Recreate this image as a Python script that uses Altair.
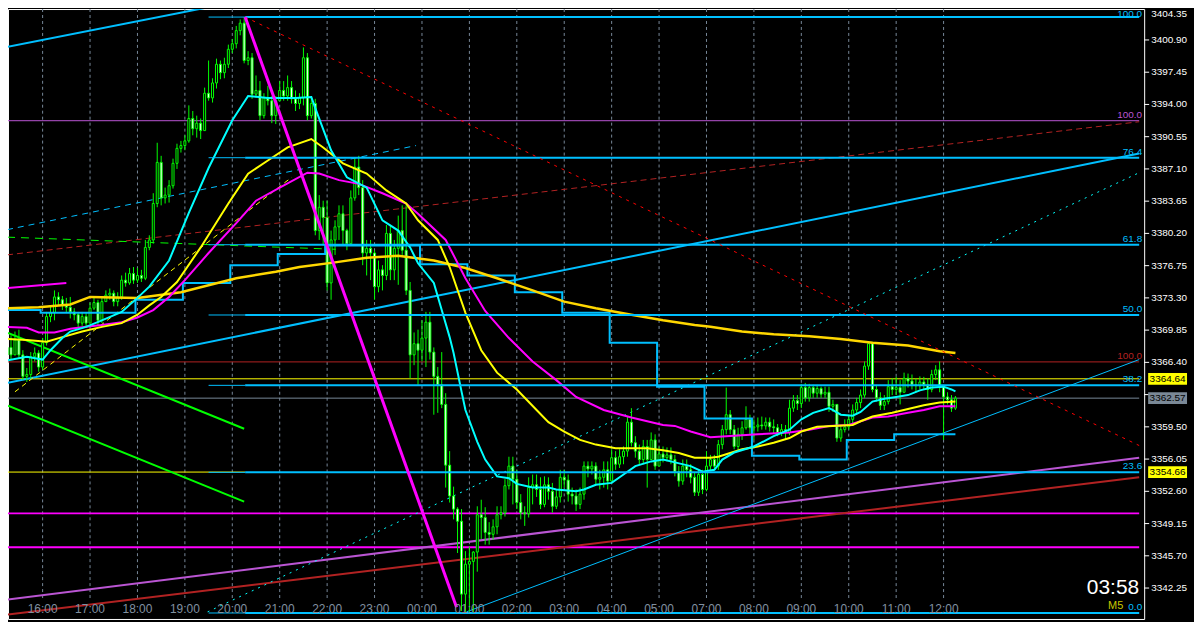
import altair as alt
import pandas as pd

# ---------------- data (M5 gold chart) ----------------
FIRST_BAR = -9
first_open = 3367.2
closes = [
    3368.0, 3367.2, 3368.8, 3367.2, 3364.9, 3365.1, 3367.0, 3367.4, 3365.9, 3368.5,
    3371.3, 3371.7, 3373.4, 3373.1, 3372.5, 3372.3, 3371.8, 3371.5, 3370.6, 3371.3,
    3370.6, 3372.2, 3372.8, 3370.9, 3372.9, 3373.6, 3373.8, 3372.9, 3373.4, 3375.2,
    3374.9, 3375.9, 3375.2, 3375.7, 3375.4, 3378.7, 3379.5, 3383.4, 3387.8, 3384.0,
    3384.3, 3385.3, 3387.7, 3389.3, 3389.6, 3390.1, 3392.5, 3391.4, 3392.0, 3391.2,
    3395.2, 3394.7, 3396.3, 3398.3, 3397.4, 3398.3, 3399.9, 3400.5, 3401.9, 3402.7,
    3398.7, 3399.0, 3395.1, 3395.5, 3392.8, 3394.7, 3394.4, 3392.8, 3394.4, 3395.5,
    3394.9, 3395.8, 3394.6, 3394.1, 3394.7, 3399.0, 3392.8, 3394.1, 3380.5, 3383.0,
    3381.9, 3374.9, 3379.5, 3380.9, 3382.3, 3380.5, 3379.1, 3384.0, 3387.3, 3385.1,
    3378.1, 3378.6, 3378.1, 3374.5, 3376.3, 3375.7, 3380.2, 3376.3, 3378.6, 3380.5,
    3378.4, 3374.1, 3367.2, 3368.4, 3367.7, 3369.0, 3370.7, 3367.5, 3364.9, 3364.0,
    3361.9, 3355.4, 3352.1, 3350.7, 3349.4, 3341.6, 3344.8, 3345.1, 3346.1, 3350.1,
    3349.8, 3348.2, 3348.0, 3348.8, 3350.1, 3350.3, 3353.2, 3355.3, 3353.9, 3351.4,
    3350.3, 3350.2, 3353.0, 3353.3, 3352.8, 3351.2, 3353.3, 3352.6, 3351.0, 3352.0,
    3354.1, 3353.8, 3352.3, 3352.1, 3351.2, 3352.3, 3355.3, 3355.0, 3355.3, 3353.9,
    3354.1, 3354.9, 3353.7, 3356.2, 3355.5, 3356.3, 3356.9, 3360.0, 3357.8, 3356.9,
    3356.0, 3357.4, 3356.0, 3358.1, 3355.3, 3356.6, 3356.2, 3356.5, 3356.0, 3354.7,
    3353.7, 3355.3, 3354.9, 3354.1, 3352.5, 3354.4, 3352.8, 3355.3, 3356.0, 3355.3,
    3357.6, 3359.2, 3360.8, 3359.2, 3357.4, 3358.7, 3359.4, 3360.3, 3359.4, 3359.5,
    3359.7, 3359.6, 3360.0, 3359.5, 3359.4, 3358.9, 3359.2, 3358.9, 3361.5, 3362.3,
    3362.0, 3363.7, 3362.6, 3363.7, 3363.1, 3363.6, 3363.0, 3363.2, 3361.7, 3361.9,
    3358.3, 3359.2, 3359.5, 3360.3, 3361.3, 3362.1, 3362.9, 3366.0, 3368.4, 3363.5,
    3362.6, 3361.8, 3362.2, 3363.8, 3363.5, 3363.7, 3363.2, 3364.7, 3364.4, 3364.0,
    3363.9, 3364.3, 3364.0, 3363.5, 3365.1, 3365.6, 3363.8, 3362.7, 3362.4, 3361.5, 3362.57,
]
highs = [
    3368.5, 3369.3, 3369.7, 3369.9, 3367.7, 3365.8, 3367.5, 3368.0, 3367.7, 3369.0,
    3371.8, 3372.5, 3374.1, 3373.9, 3373.5, 3373.3, 3373.4, 3372.2, 3371.8, 3371.8,
    3371.7, 3372.8, 3373.3, 3373.1, 3373.3, 3374.1, 3374.3, 3374.1, 3373.9, 3375.7,
    3376.0, 3376.5, 3376.6, 3376.5, 3376.3, 3379.5, 3380.0, 3384.5, 3389.9, 3388.5,
    3385.1, 3385.9, 3388.2, 3389.8, 3390.1, 3390.7, 3393.9, 3393.3, 3392.8, 3392.5,
    3395.8, 3398.7, 3396.8, 3398.9, 3398.7, 3399.0, 3400.4, 3401.0, 3402.4, 3403.1,
    3403.35, 3399.7, 3399.5, 3397.1, 3396.5, 3395.2, 3396.0, 3394.9, 3394.9, 3396.5,
    3396.5, 3397.1, 3396.5, 3395.5, 3395.2, 3400.1, 3399.5, 3394.7, 3394.6, 3384.3,
    3383.7, 3383.7, 3380.5, 3381.6, 3383.2, 3383.2, 3380.7, 3384.8, 3388.3, 3388.5,
    3385.9, 3379.5, 3379.5, 3378.4, 3377.3, 3376.8, 3381.1, 3381.1, 3379.5, 3382.1,
    3383.2, 3383.2, 3375.0, 3369.6, 3369.9, 3370.9, 3371.8, 3371.8, 3368.0, 3365.9,
    3367.5, 3363.1, 3356.9, 3353.1, 3350.9, 3350.7, 3346.2, 3346.7, 3346.2, 3351.0,
    3351.7, 3350.9, 3349.3, 3349.6, 3351.0, 3351.0, 3353.9, 3356.3, 3356.3, 3354.9,
    3352.3, 3351.0, 3354.1, 3354.4, 3354.4, 3354.1, 3354.2, 3354.1, 3353.5, 3352.8,
    3354.9, 3354.9, 3354.4, 3353.0, 3352.8, 3353.0, 3355.8, 3355.8, 3355.8, 3355.7,
    3354.9, 3355.8, 3355.8, 3357.1, 3356.9, 3357.1, 3357.4, 3360.6, 3361.5, 3358.5,
    3357.6, 3358.1, 3358.1, 3358.9, 3358.7, 3357.4, 3357.4, 3357.3, 3357.3, 3356.5,
    3355.3, 3356.0, 3356.0, 3355.5, 3354.6, 3354.9, 3354.9, 3356.9, 3356.5, 3356.5,
    3358.1, 3359.7, 3363.7, 3361.3, 3359.7, 3359.4, 3360.1, 3361.7, 3360.8, 3360.3,
    3360.5, 3360.6, 3360.5, 3360.5, 3360.3, 3359.8, 3359.8, 3359.7, 3362.4, 3362.9,
    3362.9, 3364.1, 3364.2, 3364.1, 3364.0, 3364.0, 3363.8, 3363.8, 3363.8, 3362.4,
    3361.9, 3359.7, 3360.3, 3360.8, 3361.9, 3362.6, 3363.5, 3366.5, 3368.6, 3368.6,
    3364.0, 3363.2, 3362.9, 3364.5, 3364.7, 3364.85, 3364.5, 3365.3, 3365.2, 3365.1,
    3364.7, 3364.9, 3364.85, 3364.7, 3365.6, 3366.1, 3366.5, 3364.0, 3363.2, 3362.9, 3362.8,
]
lows = [
    3366.9, 3366.7, 3367.7, 3366.9, 3364.5, 3364.3, 3364.7, 3366.5, 3365.4, 3365.6,
    3368.2, 3370.7, 3370.9, 3372.5, 3372.0, 3371.8, 3371.1, 3370.9, 3370.1, 3370.3,
    3370.1, 3370.7, 3372.0, 3370.4, 3370.6, 3372.9, 3373.1, 3372.4, 3372.4, 3373.1,
    3374.5, 3374.7, 3374.8, 3374.9, 3375.0, 3375.2, 3378.4, 3379.1, 3383.0, 3383.2,
    3383.4, 3383.5, 3385.0, 3387.1, 3388.85, 3389.1, 3389.9, 3390.7, 3390.45, 3390.3,
    3391.8, 3394.4, 3394.2, 3395.7, 3396.7, 3396.8, 3397.9, 3399.5, 3400.0, 3401.4,
    3398.4, 3398.2, 3394.6, 3394.7, 3392.3, 3392.5, 3393.9, 3392.0, 3391.9, 3394.4,
    3394.4, 3394.4, 3394.1, 3393.3, 3393.5, 3393.9, 3392.3, 3392.5, 3380.0, 3379.5,
    3378.9, 3374.1, 3373.1, 3377.9, 3379.5, 3378.9, 3378.4, 3378.9, 3383.7, 3384.3,
    3376.8, 3375.7, 3375.2, 3373.1, 3373.9, 3374.1, 3375.2, 3375.2, 3375.2, 3374.7,
    3377.9, 3373.6, 3364.7, 3366.1, 3364.0, 3366.5, 3365.9, 3366.7, 3360.8, 3361.0,
    3361.5, 3353.0, 3351.4, 3349.6, 3346.0, 3339.8, 3339.7, 3339.7, 3339.7, 3344.0,
    3347.5, 3346.9, 3346.9, 3347.4, 3348.0, 3349.6, 3349.9, 3352.8, 3351.2, 3350.7,
    3349.6, 3348.9, 3349.8, 3351.2, 3352.0, 3350.7, 3350.9, 3351.7, 3350.3, 3350.7,
    3351.4, 3353.0, 3351.5, 3351.2, 3350.5, 3350.7, 3351.7, 3354.1, 3354.4, 3353.3,
    3352.8, 3353.0, 3352.8, 3354.4, 3354.9, 3355.1, 3355.5, 3356.3, 3357.4, 3356.2,
    3355.5, 3355.5, 3353.0, 3356.2, 3354.9, 3355.7, 3355.7, 3355.8, 3355.5, 3354.2,
    3353.1, 3353.3, 3354.1, 3353.45, 3352.1, 3352.1, 3352.3, 3352.6, 3354.9, 3354.9,
    3354.9, 3357.1, 3358.7, 3358.7, 3357.1, 3356.9, 3358.1, 3359.2, 3358.7, 3358.1,
    3359.0, 3359.2, 3359.2, 3359.0, 3358.8, 3358.5, 3358.5, 3358.1, 3358.6, 3361.1,
    3361.3, 3361.5, 3362.2, 3362.2, 3362.6, 3362.6, 3362.6, 3362.6, 3361.1, 3361.1,
    3357.9, 3357.9, 3358.9, 3359.2, 3359.7, 3360.8, 3361.5, 3362.6, 3365.6, 3363.2,
    3362.2, 3361.3, 3361.3, 3361.9, 3362.9, 3362.9, 3361.9, 3363.2, 3363.7, 3363.5,
    3363.2, 3363.5, 3363.5, 3362.4, 3363.2, 3364.5, 3363.2, 3358.1, 3361.9, 3361.1, 3361.3,
]

# moving averages (bar index, price)
fast_ma_bars = [-9, -4, 0, 2, 5, 7, 11, 15, 20, 24, 27, 32, 37, 42, 48, 52, 57, 64, 68, 69,
                73, 77, 82, 86, 90, 93, 95, 99, 101, 103, 104, 106, 107, 110, 112, 115, 118, 120, 124, 128,
                130, 135, 137, 140, 144, 147, 150, 154, 157, 160, 164, 167, 170, 172, 175, 180, 185, 189, 192, 195,
                199, 200, 202, 205, 207, 210, 213, 216, 219, 222, 225, 228, 230, 231]
fast_ma = [3366.6, 3367.0, 3366.7, 3367.7, 3369.0, 3369.7, 3370.2, 3370.9, 3371.8, 3373.3,
           3374.5, 3377.3, 3382.4, 3387.2, 3392.3, 3394.9, 3394.7, 3394.7, 3394.8, 3393.6,
           3389.1, 3386.2, 3385.1, 3381.6, 3380.5, 3378.7, 3377.0, 3374.9, 3372.0, 3369.1,
           3367.4, 3363.3, 3361.3, 3357.9, 3356.0, 3354.2, 3354.0, 3353.4, 3353.0, 3353.0,
           3352.8, 3352.6, 3352.8, 3353.3, 3353.5, 3354.4, 3355.3, 3355.8, 3356.0, 3355.7,
           3355.3, 3354.7, 3354.9, 3356.0, 3356.75, 3357.4, 3358.5, 3359.2, 3360.3, 3361.0,
           3361.5, 3361.3, 3360.8, 3360.7, 3361.1, 3362.2, 3362.5, 3362.7, 3362.9, 3363.4,
           3363.7, 3363.8, 3363.5, 3363.3]
mid_ma_bars = [-9, -4, 1, 5, 10, 15, 20, 24, 27, 30, 34, 40, 47, 52, 57, 62, 68, 71, 76, 82,
               87, 92, 95, 100, 103, 107, 111, 115, 120, 125, 128, 132, 136, 140, 145, 149, 153, 157, 161, 165,
               169, 171, 174, 177, 181, 185, 189, 192, 196, 200, 205, 207, 210, 215, 219, 223, 227, 231]
mid_ma = [3368.9, 3368.8, 3368.6, 3369.1, 3369.7, 3370.2, 3370.6, 3371.5, 3372.5, 3373.4,
          3375.0, 3378.7, 3383.4, 3386.6, 3388.0, 3389.4, 3390.3, 3389.4, 3387.7, 3386.6,
          3384.8, 3383.4, 3381.6, 3379.5, 3376.6, 3371.7, 3367.7, 3365.3, 3363.5, 3361.3,
          3360.0, 3359.0, 3358.1, 3357.6, 3357.2, 3357.2, 3357.2, 3357.0, 3356.7, 3356.2,
          3356.2, 3356.3, 3356.7, 3357.1, 3357.4, 3357.8, 3358.3, 3359.0, 3359.5, 3359.6,
          3359.7, 3360.1, 3360.6, 3361.0, 3361.4, 3361.8, 3362.1, 3362.2]
slow_ma_bars = [-9, -4, -1, 3, 7, 11, 15, 20, 24, 28, 32, 36, 42, 49, 54, 60, 67, 70, 75, 80,
                86, 92, 95, 102, 107, 112, 118, 124, 130, 135, 142, 149, 157, 160, 164, 169, 173, 181, 189, 194,
                199, 204, 207, 210, 214, 219, 223, 227, 231]
slow_ma = [3370.2, 3370.1, 3369.6, 3369.6, 3370.0, 3370.2, 3370.4, 3370.7, 3371.2, 3372.0,
           3373.4, 3375.2, 3378.1, 3381.3, 3383.7, 3385.1, 3386.7, 3386.6, 3385.9, 3385.5,
           3384.5, 3383.4, 3382.3, 3379.5, 3375.4, 3371.9, 3369.0, 3366.5, 3364.5, 3362.7,
           3361.3, 3360.5, 3359.7, 3359.6, 3359.0, 3358.4, 3358.5, 3358.7, 3358.9, 3359.2,
           3359.6, 3359.7, 3360.1, 3360.5, 3360.6, 3361.0, 3361.3, 3361.7, 3361.7]
long_ma_bars = [-9, -1, 7, 12, 24, 35, 49, 59, 65, 74, 82, 90, 99, 107, 115, 124, 132, 140, 149, 157,
                165, 169, 177, 185, 194, 202, 210, 219, 227, 231]
long_ma = [3372.2, 3372.3, 3372.6, 3373.4, 3373.3, 3373.9, 3375.4, 3376.1, 3376.6, 3377.1,
           3377.6, 3377.8, 3377.3, 3376.5, 3375.4, 3374.1, 3372.9, 3372.2, 3371.5, 3370.9,
           3370.4, 3370.2, 3369.7, 3369.4, 3369.2, 3368.9, 3368.5, 3368.2, 3367.6, 3367.4]
step_bars = [-9, -0.5, 23.5, 35.5, 47.5, 59.5, 71.5, 95.5, 107.5, 119.5, 131.5, 143.5, 155.5,
             167.5, 179.5, 191.5, 203.5, 215.5, 231]
step_vals = [3372.0, 3371.7, 3373.1, 3374.9, 3376.8, 3378.0, 3378.9, 3376.9, 3375.7, 3373.9,
             3371.7, 3368.5, 3363.8, 3360.4, 3356.4, 3356.0, 3358.1, 3358.7, 3358.7]

# Fibonacci retracement (from high 3403.35 to low 3339.58)
fib_labels = ["76.4", "61.8", "50.0", "38.2", "23.6", "0.0"]
fib_label_prices = [3388.30, 3378.99, 3371.47, 3363.94, 3354.63, 3339.58]
fib_top_label = "100.0"
fib_prices = [3403.35, 3388.30, 3378.99, 3371.47, 3363.94, 3354.63, 3339.58]
fib_start_bar = 42
fib_anchor_bar = 51.25
RIGHT_BAR = 277.5
LEFT_BAR = -9

hour_bars = [0, 12, 24, 36, 48, 60, 72, 84, 96, 108, 120, 132, 144, 156, 168, 180, 192, 204, 216, 228]
hour_labels = ["16:00", "17:00", "18:00", "19:00", "20:00", "21:00", "22:00", "23:00", "00:00", "01:00",
               "02:00", "03:00", "04:00", "05:00", "07:00", "08:00", "09:00", "10:00", "11:00", "12:00"]
price_ticks = [3400.90, 3397.45, 3394.00, 3390.55, 3387.10, 3383.65, 3380.20, 3376.75, 3373.30,
               3369.85, 3366.40, 3362.95, 3359.50, 3356.05, 3352.60, 3349.15, 3345.70, 3342.25]
hidden_tick = 3362.95   # its label sits under the bid-price tag
top_tick_label = "3404.35"

# price tags on the right scale
tag_texts = ["3364.64", "3354.66", "3362.57"]
tag_prices = [3364.64, 3354.66, 3362.57]
tag_fills = ["#FFFF00", "#FFFF00", "#7A8896"]

# ---------------- scales ----------------
xs = alt.Scale(domain=[-7.5, 277.5], nice=False, zero=False)
ys = alt.Scale(domain=[3338.94, 3404.21], nice=False, zero=False)
FONT = "Liberation Sans"

n = min(len(closes), len(highs), len(lows))
rows = []
prev = first_open
for i in range(n):
    o, c = prev, closes[i]
    rows.append({"bar": FIRST_BAR + i, "open": o, "close": c,
                 "high": max(highs[i], o, c), "low": min(lows[i], o, c)})
    prev = c
candles = pd.DataFrame(rows)

Y = lambda f: alt.Y(f, scale=ys, axis=None)
X = lambda f: alt.X(f, scale=xs, axis=None)


def seg(rows_, color, width, dash=None):
    df = pd.DataFrame(rows_, columns=["b1", "p1", "b2", "p2"])
    kw = dict(color=color, strokeWidth=width, clip=True)
    if dash:
        kw["strokeDash"] = dash
    return alt.Chart(df).mark_rule(**kw).encode(
        x=X("b1:Q"), x2="b2:Q", y=Y("p1:Q"), y2="p2:Q")


def line(bars, vals, color, width, interp="linear"):
    df = pd.DataFrame({"bar": bars[:len(vals)], "price": vals[:len(bars)]})
    return alt.Chart(df).mark_line(color=color, strokeWidth=width, clip=True,
                                   interpolate=interp).encode(x=X("bar:Q"), y=Y("price:Q"))


grid = alt.Chart(pd.DataFrame({"bar": hour_bars})).mark_rule(
    color="#778899", strokeWidth=1, strokeDash=[3, 3]).encode(
    x=X("bar:Q"), y=alt.value(0), y2=alt.value(592))

time_text = alt.Chart(pd.DataFrame({"bar": hour_bars, "t": hour_labels})).mark_text(
    color="#8090A0", font=FONT, fontSize=12, align="center", baseline="middle").encode(
    x=X("bar:Q"), y=alt.value(602), text="t:N")

# right price scale (drawn as marks)
ticks_df = pd.DataFrame({"price": price_ticks})
label_df = pd.DataFrame({"price": [v for v in price_ticks if v != hidden_tick]})
label_df["t"] = [f"{v:.2f}" for v in label_df["price"]]
axis_ticks = alt.Chart(ticks_df).mark_rule(color="white", strokeWidth=1).encode(
    x=alt.value(1140), x2=alt.value(1145), y=Y("price:Q"))
axis_labels = alt.Chart(label_df).mark_text(
    color="white", font=FONT, fontSize=10, align="left", baseline="middle").encode(
    x=alt.value(1147), y=Y("price:Q"), text="t:N")

wicks = alt.Chart(candles).mark_rule(color="#00FF00", strokeWidth=1, clip=True).encode(
    x=X("bar:Q"), y=Y("low:Q"), y2="high:Q")
bodies = alt.Chart(candles).mark_bar(size=2, stroke="#00FF00", strokeWidth=1, clip=True).encode(
    x=X("bar:Q"), y=Y("open:Q"), y2="close:Q",
    fill=alt.condition("datum.close >= datum.open", alt.value("black"), alt.value("white")))

layers = [
    grid,
    seg([(LEFT_BAR, 3392.26, RIGHT_BAR, 3392.26)], "#BA55D3", 1),
    seg([(LEFT_BAR, 3366.45, RIGHT_BAR, 3366.45)], "#B22222", 1),
    seg([(LEFT_BAR, 3364.64, RIGHT_BAR, 3364.64), (LEFT_BAR, 3354.66, fib_anchor_bar, 3354.66)], "#FFFF00", 1),
    seg([(LEFT_BAR, 3362.57, RIGHT_BAR, 3362.57)], "#778899", 1),
    seg([(LEFT_BAR, 3350.24, RIGHT_BAR, 3350.24), (LEFT_BAR, 3346.62, RIGHT_BAR, 3346.62)], "#FF00FF", 2),
    seg([(LEFT_BAR, 3377.9, RIGHT_BAR, 3392.15)], "#B22222", 1, [6, 4]),
    seg([(LEFT_BAR, 3380.6, 94.5, 3389.6)], "#00BFFF", 1, [6, 5]),
    seg([(LEFT_BAR, 3379.8, 74.25, 3378.5)], "#00FF00", 1, [8, 6]),
    seg([(LEFT_BAR, 3364.2, RIGHT_BAR, 3388.75), (LEFT_BAR, 3400.15, 46, 3404.74)], "#00BFFF", 2),
    seg([(LEFT_BAR, 3341.0, RIGHT_BAR, 3356.2)], "#BA55D3", 2),
    seg([(LEFT_BAR, 3339.4, RIGHT_BAR, 3354.1)], "#B22222", 2),
    seg([(41.75, 3339.7, RIGHT_BAR, 3386.7)], "#00FFFF", 1, [2, 5]),
    seg([(107.25, 3339.7, RIGHT_BAR, 3366.7)], "#00BFFF", 1),
    seg([(-8.75, 3369.55, 51, 3359.3), (-8.75, 3361.76, 51, 3351.5)], "#00FF00", 2),
    seg([(-7, 3363.25, 63, 3386.2)], "#FFFF00", 1, [5, 4]),
    seg([(LEFT_BAR, 3374.35, 6, 3374.9)], "#FF00FF", 2),
    wicks,
    bodies,
    line(step_bars, step_vals, "#00BFFF", 2, "step-after"),
    line(long_ma_bars, long_ma, "#FFD700", 2.5),
    line(slow_ma_bars, slow_ma, "#FF00FF", 2),
    line(mid_ma_bars, mid_ma, "#FFFF00", 2),
    line(fast_ma_bars, fast_ma, "#00FFFF", 2),
    seg([(fib_start_bar, p, fib_anchor_bar, p) for p in fib_prices], "#00BFFF", 1),
    seg([(fib_anchor_bar, p, RIGHT_BAR, p) for p in fib_prices], "#00BFFF", 2),
    seg([(fib_anchor_bar, 3403.35, RIGHT_BAR, 3357.5)], "#FF0000", 1, [3, 5]),
    seg([(fib_anchor_bar, 3403.35, 104.75, 3340.2)], "#FF00FF", 3),
    time_text,
    axis_ticks,
    axis_labels,
]

# fib level labels
fib_df = pd.DataFrame({"price": fib_label_prices, "t": fib_labels})
layers.append(alt.Chart(fib_df).mark_text(
    color="#00BFFF", font=FONT, fontSize=10, align="right", baseline="bottom", dy=-1).encode(
    x=alt.value(1138), y=Y("price:Q"), text="t:N"))
layers.append(alt.Chart(pd.DataFrame({"t": [fib_top_label]})).mark_text(
    color="#00BFFF", font=FONT, fontSize=10, align="right", baseline="top").encode(
    x=alt.value(1138), y=alt.value(0), text="t:N"))
other_lvls = pd.DataFrame({"price": [3392.26, 3366.45], "t": ["100.0", "100.0"],
                           "c": ["#BA55D3", "#B22222"]})
layers.append(alt.Chart(other_lvls).mark_text(
    font=FONT, fontSize=10, align="right", baseline="bottom", dy=-1).encode(
    x=alt.value(1138), y=Y("price:Q"), text="t:N",
    color=alt.Color("c:N", scale=None)))

# price tags at the right scale
tags = pd.DataFrame({"price": tag_prices, "t": tag_texts, "f": tag_fills})
layers.append(alt.Chart(tags).mark_point(
    shape="M-1,-0.3H1V0.3H-1Z", size=1521, filled=True, opacity=1, strokeWidth=0).encode(
    x=alt.value(1163.5), y=Y("price:Q"), fill=alt.Fill("f:N", scale=None)))
layers.append(alt.Chart(tags).mark_text(
    font=FONT, fontSize=10, align="center", baseline="middle", color="black").encode(
    x=alt.value(1163.5), y=Y("price:Q"), text="t:N"))

# misc texts
layers.append(alt.Chart(pd.DataFrame({"t": [top_tick_label]})).mark_text(
    font=FONT, fontSize=10, align="left", baseline="middle", color="white").encode(
    x=alt.value(1147), y=alt.value(5), text="t:N"))
layers.append(alt.Chart(pd.DataFrame({"t": ["03:58"]})).mark_text(
    font=FONT, fontSize=21, align="right", baseline="middle", color="white").encode(
    x=alt.value(1135), y=alt.value(581), text="t:N"))
layers.append(alt.Chart(pd.DataFrame({"t": ["M5"]})).mark_text(
    font=FONT, fontSize=11, align="right", baseline="middle", color="#C8C800").encode(
    x=alt.value(1119), y=alt.value(599), text="t:N"))

chart = alt.layer(*layers).properties(
    width=1140, height=612,
    autosize=alt.AutoSizeParams(type="none"),
    padding={"left": 0, "top": 0, "right": 50, "bottom": 2},
).configure(background="black").configure_view(stroke="white", strokeWidth=1)

chart.save("out.html", embed_options={"renderer": "svg", "actions": False})
